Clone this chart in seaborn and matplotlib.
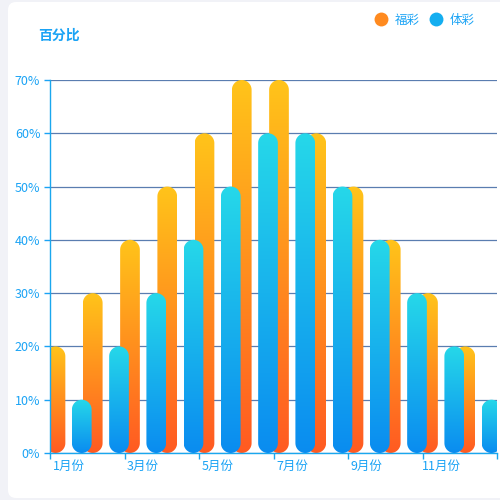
import numpy as np
import pandas as pd
import seaborn as sns
import matplotlib.pyplot as plt
from matplotlib.patches import FancyBboxPatch, Polygon
from matplotlib.lines import Line2D
from matplotlib.colors import LinearSegmentedColormap

months = ['1月份', '2月份', '3月份', '4月份', '5月份', '6月份',
          '7月份', '8月份', '9月份', '10月份', '11月份', '12月份']
fucai = [20, 30, 40, 50, 60, 70, 70, 60, 50, 40, 30, 20]
ticai = [10, 20, 30, 40, 50, 60, 60, 50, 40, 30, 20, 10]
series = ['福彩', '体彩']
y_ticks = [0, 10, 20, 30, 40, 50, 60, 70]

sns.set_theme(style='white')
plt.rcParams['font.family'] = ['Noto Sans CJK SC', 'DejaVu Sans']

blue_txt = '#1aa3f5'
cmaps = [LinearSegmentedColormap.from_list('fc', ['#ff5a22', '#ffc41a']),
         LinearSegmentedColormap.from_list('tc', ['#0a8cf0', '#26d8e9'])]

fig = plt.figure(figsize=(5, 5), dpi=100)
fig.patch.set_facecolor('#f1f2f7')
card = FancyBboxPatch((8 / 500, 2 / 500), 1.2, 496 / 500,
                      boxstyle='round,pad=0,rounding_size=0.016',
                      transform=fig.transFigure, facecolor='white',
                      edgecolor='none', zorder=0)
fig.add_artist(card)

ax = fig.add_axes([0.1, 0.094, 0.894, 0.746])
ax.set_facecolor('none')

df = pd.DataFrame({'month': months * 2,
                   'value': fucai + ticai,
                   'series': [series[0]] * 12 + [series[1]] * 12})
sns.barplot(data=df, x='month', y='value', hue='series', hue_order=series,
            width=1.41, gap=0.25, errorbar=None, legend=False, ax=ax)

# y units per x unit so the rounded ends come out circular
bb = ax.get_position()
asp = (bb.width * 500 / 12) / (bb.height * 500 / 70)
grad = np.linspace(0, 1, 256).reshape(-1, 1)
t = np.linspace(0, np.pi, 40)


def pill(x, w, h):
    r = w / 2
    ry = r * asp
    cx = x + r
    top = np.column_stack([cx + r * np.cos(t), h - ry + ry * np.sin(t)])
    bot = np.column_stack([cx - r * np.cos(t), ry - ry * np.sin(t)])
    return np.vstack([top, bot])


for i, cont in enumerate(ax.containers):
    for bar in cont:
        x, w, h = bar.get_x(), bar.get_width(), bar.get_height()
        bar.set_visible(False)
        shape = Polygon(pill(x, w, h), closed=True, facecolor='none',
                        edgecolor='none', transform=ax.transData)
        ax.add_patch(shape)
        im = ax.imshow(grad, extent=[x, x + w, 0, h], aspect='auto',
                       origin='lower', cmap=cmaps[i], zorder=2 + i)
        im.set_clip_path(shape)

ax.set_xlim(-0.5, 11.5)
ax.set_ylim(0, 70)
ax.set_aspect('auto')
ax.set_xlabel('')
ax.set_ylabel('')

ax.set_yticks(y_ticks)
ax.set_yticklabels([f'{v}%' for v in y_ticks])
ax.set_xticks(range(0, 12, 2))
ax.set_xticklabels(months[::2])
ax.set_xticks(np.arange(-0.5, 12, 2), minor=True)

ax.yaxis.grid(True, color='#5a7db0', lw=0.9)
ax.set_axisbelow(True)
for s in ['top', 'right']:
    ax.spines[s].set_visible(False)
for s in ['left', 'bottom']:
    ax.spines[s].set_color('#1aa7ee')
    ax.spines[s].set_linewidth(1)

ax.tick_params(axis='y', colors=blue_txt, labelsize=9, length=4, width=1,
               direction='out', left=True, pad=3)
ax.tick_params(axis='x', which='major', colors=blue_txt, labelsize=9,
               length=0, pad=5)
ax.tick_params(axis='x', which='minor', color='#1aa7ee', length=4, width=1,
               direction='out', bottom=True)

fig.text(38 / 500, 1 - 36 / 500, '百分比', color=blue_txt, fontsize=10,
         fontweight='bold', va='center', ha='left')

handles = [Line2D([], [], marker='o', ls='', markersize=10,
                  markerfacecolor=c, markeredgecolor='none')
           for c in ['#ff8a1f', '#14aef0']]
fig.legend(handles, series, loc='center right',
           bbox_to_anchor=(486 / 500, 1 - 20 / 500), ncol=2, frameon=False,
           fontsize=9, labelcolor=blue_txt, handletextpad=0.6,
           columnspacing=0.8, handlelength=1.0)

fig.savefig('out.png', dpi=100)
